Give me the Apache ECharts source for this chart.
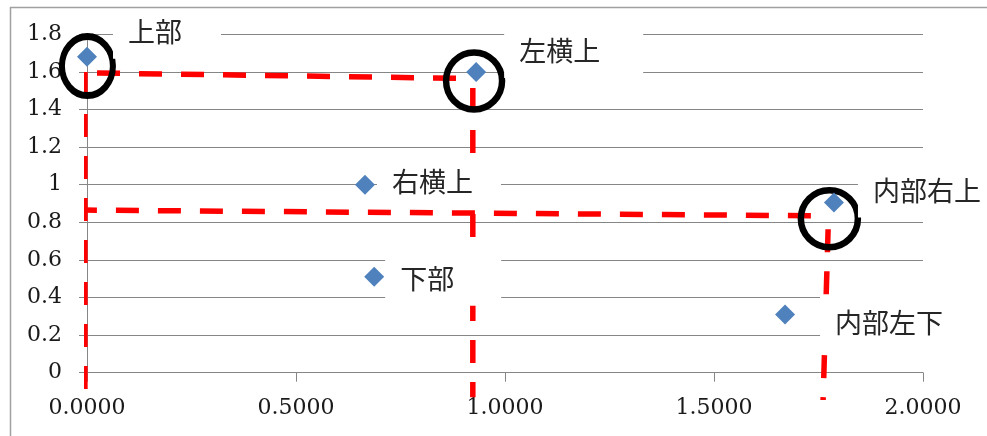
<!DOCTYPE html>
<html>
<head>
<meta charset="utf-8">
<script src="https://cdn.jsdelivr.net/npm/echarts@6/dist/echarts.min.js"></script>
<style>
  html, body { margin: 0; padding: 0; background: #ffffff; }
  #chart { width: 987px; height: 436px; }
</style>
</head>
<body>
<div id="chart"></div>
<script>
// Scatter points and their names
const pointNames = ['上部', '左横上', '右横上', '下部', '内部右上', '内部左下'];
const pointX = [0.000, 0.931, 0.665, 0.687, 1.787, 1.670];
const pointY = [1.68, 1.60, 1.00, 0.51, 0.905, 0.31];

// Highlight rings (centres in data units)
const ringX = [0.001, 0.926, 1.776];
const ringY = [1.631, 1.552, 0.819];

// Red dashed guide lines, each a pair of [x, y] ends in data units
const guideVerticalA = [[-0.005, 1.600], [-0.005, -0.092]];
const guideHorizontalA = [[0.024, 1.594], [0.887, 1.566]];
const guideVerticalB = [[0.923, 1.514], [0.923, -0.130]];
const guideHorizontalB = [[-0.005, 0.865], [1.736, 0.835]];
const guideVerticalC = [[1.773, 0.763], [1.761, -0.145]];

// Axis ticks
const xTicks = { min: 0, max: 2, step: 0.5 };
const yTicks = { min: 0, max: 1.8, step: 0.2 };

// Label placement for each point (box offset from the marker, box padding)
const labelStyle = {
  '上部':     { offset: [26, -25], padding: [12, 39, 12, 15] },
  '左横上':   { offset: [28, -21], padding: [12, 43, 12, 15] },
  '右横上':   { offset: [12, -3],  padding: [12, 28, 12, 15] },
  '下部':     { offset: [11, 2],   padding: [12, 47, 12, 15] },
  '内部右上': { offset: [24, -12], padding: [12, 20, 12, 15] },
  '内部左下': { offset: [35, 8],   padding: [12, 30, 12, 15] }
};
const ringSizes = [[51, 59], [56, 57], [57, 57]];

const GRID = '#868686';
const TEXT = '#1a1a1a';

const chart = echarts.init(document.getElementById('chart'), null, { renderer: 'canvas' });

function guide(data, dashOffset) {
  return {
    type: 'line',
    data: data,
    z: 3,
    clip: false,
    silent: true,
    symbol: 'none',
    animation: false,
    lineStyle: { color: '#ff0000', width: 5.5, opacity: 1, type: [23, 19], dashOffset: dashOffset || 0, cap: 'butt' },
    emphasis: { disabled: true }
  };
}

const points = pointNames.map((name, i) => ({
  name: name,
  value: [pointX[i], pointY[i]],
  label: {
    show: true,
    formatter: name,
    position: 'inside',
    align: 'left',
    verticalAlign: 'middle',
    offset: labelStyle[name].offset,
    padding: labelStyle[name].padding,
    backgroundColor: '#ffffff',
    opacity: 1,
    color: '#262626',
    fontFamily: '"Noto Sans CJK JP", sans-serif',
    fontSize: 27,
    lineHeight: 30
  }
}));

const rings = ringX.map((x, i) => ({
  value: [x, ringY[i]],
  symbolSize: ringSizes[i]
}));

const option = {
  animation: false,
  backgroundColor: '#ffffff',
  grid: { left: 87, right: 64, top: 34.3, bottom: 63.3, containLabel: false },
  xAxis: {
    type: 'value',
    min: xTicks.min,
    max: xTicks.max,
    interval: xTicks.step,
    axisLine: { show: true, onZero: false, lineStyle: { color: GRID, width: 1 } },
    axisTick: { show: true, inside: false, length: 9, lineStyle: { color: GRID } },
    splitLine: { show: false },
    axisLabel: {
      margin: 25,
      color: TEXT,
      fontFamily: '"DejaVu Serif", serif',
      fontSize: 22,
      formatter: v => v.toFixed(4)
    }
  },
  yAxis: {
    type: 'value',
    min: yTicks.min,
    max: yTicks.max,
    interval: yTicks.step,
    axisLine: { show: true, onZero: false, lineStyle: { color: GRID, width: 1 } },
    axisTick: { show: true, inside: false, length: 8, lineStyle: { color: GRID } },
    splitLine: { show: true, lineStyle: { color: GRID, width: 1 } },
    axisLabel: {
      margin: 25,
      color: TEXT,
      fontFamily: '"DejaVu Serif", serif',
      fontSize: 22,
      formatter: v => String(Number(v.toFixed(1)))
    }
  },
  // Chart-area frame, kept above the label boxes
  graphic: [{
    type: 'rect',
    left: 8,
    top: 5,
    z: 100,
    silent: true,
    shape: { x: 0, y: 0, width: 1100, height: 600 },
    style: { fill: 'none', stroke: '#a0a0a0', lineWidth: 1.5 }
  }],
  series: [
    guide(guideVerticalA, 0),
    guide(guideHorizontalA, 0),
    guide(guideVerticalB, 0),
    guide(guideHorizontalB, 11),
    guide(guideVerticalC, 0),
    {
      type: 'scatter',
      data: rings,
      z: 4,
      clip: false,
      silent: true,
      symbol: 'circle',
      itemStyle: { color: 'rgba(0,0,0,0)', borderColor: '#000000', borderWidth: 6.5, opacity: 1 },
      emphasis: { disabled: true }
    },
    {
      type: 'scatter',
      data: points,
      z: 5,
      clip: false,
      symbol: 'diamond',
      symbolSize: 20,
      itemStyle: { color: '#4f81bd', opacity: 1 },
      emphasis: { disabled: true }
    }
  ]
};

chart.setOption(option);
</script>
</body>
</html>
